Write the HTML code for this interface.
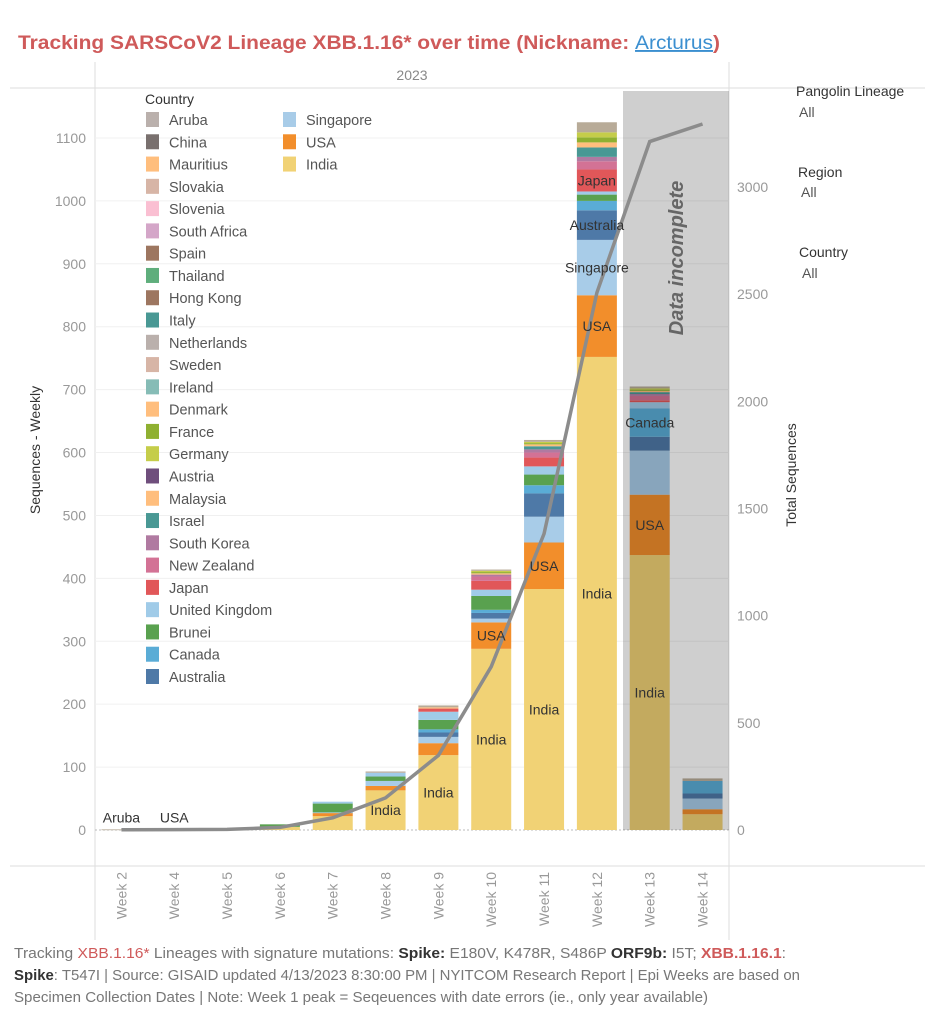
<!DOCTYPE html>
<html><head><meta charset="utf-8"><style>
body{margin:0;background:#fff;width:925px;height:1024px;overflow:hidden;font-family:"Liberation Sans",sans-serif}
svg text{font-family:"Liberation Sans",sans-serif}
</style></head><body>
<svg id="chart" width="925" height="1024" xmlns="http://www.w3.org/2000/svg">
<text x="18" y="49" font-size="19" font-weight="bold" fill="#cf5a5a" textLength="702" lengthAdjust="spacingAndGlyphs">Tracking SARSCoV2 Lineage XBB.1.16* over time (Nickname: <tspan fill="#3b8fd0" font-weight="normal" text-decoration="underline">Arcturus</tspan>)</text>
<g id="frame">
<line x1="95" y1="62" x2="95" y2="940" stroke="#ddd"/>
<line x1="729" y1="62" x2="729" y2="940" stroke="#ddd"/>
<line x1="10" y1="88" x2="925" y2="88" stroke="#ddd"/>
<line x1="10" y1="866" x2="925" y2="866" stroke="#ddd"/>
<text x="412" y="80" font-size="14" fill="#888" text-anchor="middle">2023</text>
</g>
<g id="grid"></g><g id="bars"></g><g id="shade"></g><g id="line"></g><g id="labels"></g><g id="axes"></g>
<g id="legend"><text x="145" y="104" font-size="14" fill="#333">Country</text></g>
<text transform="translate(40,450) rotate(-90)" font-size="14" fill="#333" text-anchor="middle">Sequences - Weekly</text>
<text transform="translate(796,475) rotate(-90)" font-size="14" fill="#333" text-anchor="middle">Total Sequences</text>
<g font-size="14" fill="#333">
<text x="796" y="96">Pangolin Lineage</text><text x="799" y="117" fill="#555">All</text>
<text x="798" y="177">Region</text><text x="801" y="197" fill="#555">All</text>
<text x="799" y="257">Country</text><text x="802" y="278" fill="#555">All</text>
</g>
<g font-size="14.5" fill="#777">
<text x="14" y="958" textLength="772" lengthAdjust="spacingAndGlyphs">Tracking <tspan fill="#cf5a5a">XBB.1.16*</tspan> Lineages with signature mutations: <tspan font-weight="bold" fill="#333">Spike:</tspan> E180V, K478R, S486P <tspan font-weight="bold" fill="#333">ORF9b:</tspan> I5T; <tspan fill="#cf5a5a" font-weight="bold">XBB.1.16.1</tspan>:</text>
<text x="14" y="980" textLength="786" lengthAdjust="spacingAndGlyphs"><tspan font-weight="bold" fill="#333">Spike</tspan>: T547I | Source: GISAID updated 4/13/2023 8:30:00 PM | NYITCOM Research Report | Epi Weeks are based on</text>
<text x="14" y="1002" textLength="694" lengthAdjust="spacingAndGlyphs">Specimen Collection Dates | Note: Week 1 peak = Seqeuences with date errors (ie., only year available)</text>
</g>
</svg>
<script>
const weeks=["Week 2","Week 4","Week 5","Week 6","Week 7","Week 8","Week 9","Week 10","Week 11","Week 12","Week 13","Week 14"];
const countries=["India","USA","Singapore","Australia","Canada","Brunei","United Kingdom","Japan","New Zealand","South Korea","Israel","Malaysia","France","Germany","Other"];
const india=[0,0,0,5,22,63,119,288,383,752,437,25];
const usa=[0,1,0,0,5,7,19,42,74,98,96,8];
const singapore=[0,0,0,0,1,8,10,6,41,88,70,17];
const australia=[0,0,0,0,0,0,7,9,37,47,22,8];
const canada=[0,0,0,0,0,0,5,5,13,15,45,20];
const brunei=[0,0,0,4,14,7,15,22,17,10,0,0];
const uk=[0,0,0,0,3,6,13,10,13,5,10,0];
const japan=[0,0,0,0,0,0,5,14,14,35,3,0];
const nz=[0,0,0,0,0,0,0,7,8,13,7,0];
const skorea=[0,0,0,0,0,0,0,3,5,7,3,0];
const israel=[0,0,0,0,0,0,0,0,5,15,3,0];
const malaysia=[0,0,0,0,0,0,2,2,3,8,2,0];
const france=[0,0,0,0,0,0,0,2,2,8,2,0];
const germany=[0,0,0,0,0,0,0,2,2,8,2,0];
const other=[1,0,1,0,0,2,3,2,3,16,3,4];
const totals=[1,2,3,12,57,150,348,762,1382,2507,3212,3294];
const leftTicks=[0,100,200,300,400,500,600,700,800,900,1000,1100];
const rightTicks=[0,500,1000,1500,2000,2500,3000];
const legendCol1=["Aruba","China","Mauritius","Slovakia","Slovenia","South Africa","Spain","Thailand","Hong Kong","Italy","Netherlands","Sweden","Ireland","Denmark","France","Germany","Austria","Malaysia","Israel","South Korea","New Zealand","Japan","United Kingdom","Brunei","Canada","Australia"];
const legendCol2=["Singapore","USA","India"];
const colorMap={"Aruba":"#bab0ac","China":"#79706e","Mauritius":"#ffbe7d","Slovakia":"#d7b5a6","Slovenia":"#fabfd2","South Africa":"#d4a6c8","Spain":"#9d7660","Thailand":"#5fae7c","Hong Kong":"#9d7660","Italy":"#499894","Netherlands":"#bab0ac","Sweden":"#d7b5a6","Ireland":"#86bcb6","Denmark":"#ffbe7d","France":"#8fb031","Germany":"#c5cd4a","Austria":"#6f4e7c","Malaysia":"#ffbe7d","Israel":"#499894","South Korea":"#b07aa1","New Zealand":"#d37295","Japan":"#e15759","United Kingdom":"#a0cbe8","Brunei":"#59a14f","Canada":"#5aacd6","Australia":"#4e79a7","Singapore":"#a8cce8","USA":"#f28e2b","India":"#f1d275","Other":"#b8ab98"};
const series=[india,usa,singapore,australia,canada,brunei,uk,japan,nz,skorea,israel,malaysia,france,germany,other];
const ns="http://www.w3.org/2000/svg";
const x0=95,step=52.83,bw=40,baseY=830;
const y=v=>baseY-v*0.6291;
const y2=v=>baseY-v*0.21433;
const xc=i=>x0+(i+0.5)*step;
function mk(tag,attrs,parent,text){const e=document.createElementNS(ns,tag);for(const k in attrs)e.setAttribute(k,attrs[k]);if(text!==undefined)e.textContent=text;document.getElementById(parent).appendChild(e);return e;}
leftTicks.forEach(t=>{
  const g=mk("line",{x1:95,x2:729,y1:y(t),y2:y(t),stroke:t?"#f0f0f0":"#bbb","stroke-dasharray":t?"":"2,2"},"grid");
  
  
  const l=mk("text",{x:86,y:y(t)+5,"font-size":14,fill:"#999","text-anchor":"end"},"axes",t);
  
  
});
rightTicks.forEach(t=>{
  const l=mk("text",{x:737,y:y2(t)+5,"font-size":14,fill:"#999"},"axes",t);
  
  
});
weeks.forEach((w,i)=>{
  const l=mk("text",{transform:`translate(${xc(i)+5},872) rotate(-90)`,"font-size":14,fill:"#999","text-anchor":"end"},"axes",w);
  
  
  let cum=0;
  series.forEach((s,k)=>{
    const v=s[i]; if(!v)return;
    const r=mk("rect",{x:xc(i)-bw/2,y:y(cum+v),width:bw,height:Math.max(0.8,y(cum)-y(cum+v)),fill:colorMap[countries[k]]},"bars");
    
    
    const lab=(countries[k]==="India"&&i>=5&&i<=10)||(countries[k]==="USA"&&i>=7&&i<=10)||(i===9&&["Singapore","Australia","Japan"].includes(countries[k]))||(i===10&&countries[k]==="Canada");
    if(lab){
      const t=mk("text",{x:xc(i),y:(y(cum)+y(cum+v))/2+5,"font-size":14,fill:"#333","text-anchor":"middle"},"labels",countries[k]);
      
      
    }
    cum+=v;
  });
});
[["Aruba",0],["USA",1]].forEach(([n,i])=>{
  const t=mk("text",{x:xc(i),y:y(1)-7,"font-size":14,fill:"#333","text-anchor":"middle"},"labels",n);
  
  
});
const sh=mk("rect",{x:623,y:91,width:106,height:739,fill:"#cfcfcf",style:"mix-blend-mode:multiply"},"shade");


const st=mk("text",{transform:"translate(683,258) rotate(-90)","font-size":20,"font-weight":"bold","font-style":"italic",fill:"#666","text-anchor":"middle"},"shade","Data incomplete");


const pl=mk("polyline",{points:totals.map((v,i)=>xc(i)+","+y2(v)).join(" "),fill:"none",stroke:"#8c8c8c","stroke-width":3.5},"line");


function legendItem(name,x,yy){
  const r=mk("rect",{x:x,y:yy-12,width:13,height:15,fill:colorMap[name]},"legend");
  
  
  const t=mk("text",{x:x+23,y:yy+1,"font-size":14.5,fill:"#555"},"legend",name);
  
  
}
legendCol1.forEach((n,i)=>legendItem(n,146,124+i*22.28));
legendCol2.forEach((n,i)=>legendItem(n,283,124+i*22.28));
</script>
</body></html>
